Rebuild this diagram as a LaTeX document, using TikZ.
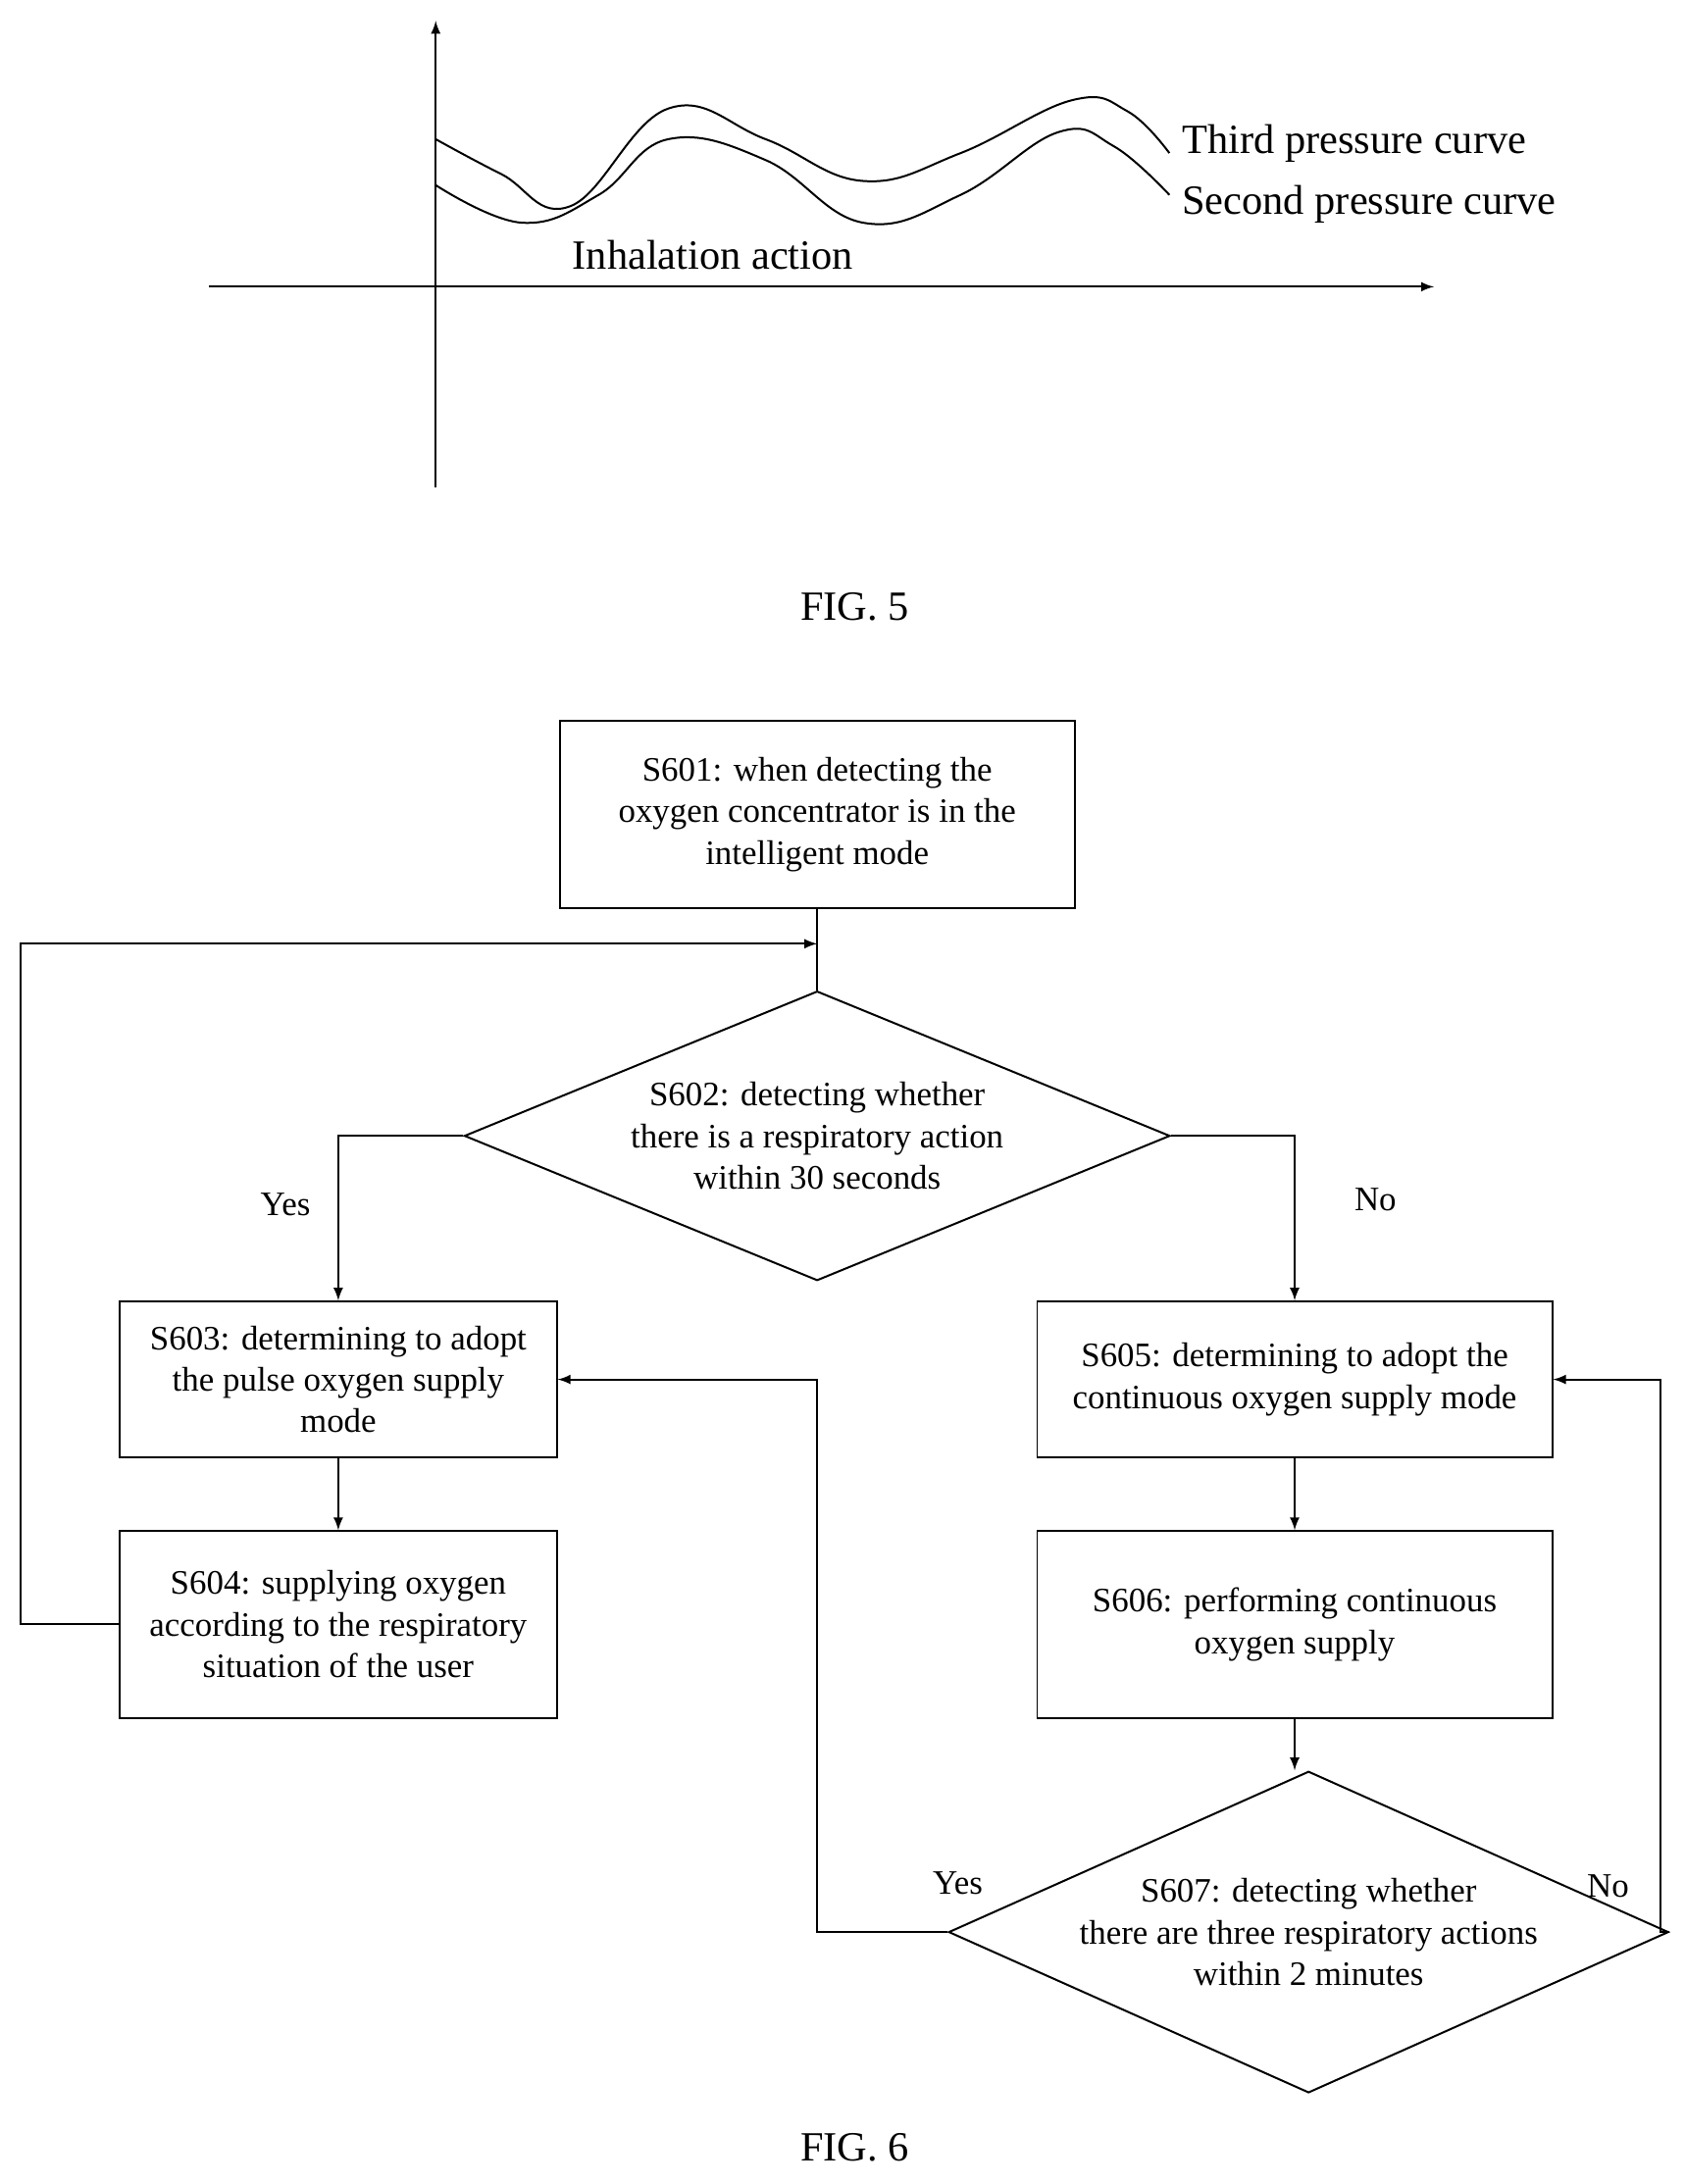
\documentclass[tikz,border=0pt]{standalone}
\usepackage{fontspec}
\setmainfont{Liberation Serif}
\usetikzlibrary{shapes.geometric}
\begin{document}
\begin{tikzpicture}[x=0.02cm,y=-0.02cm,>=latex,
  box/.style={draw,thick,minimum width=7.4cm,minimum height=2.7cm,align=center,font=\fontsize{14}{17}\selectfont,inner sep=2pt},
  boxs/.style={box,minimum width=6.28cm,minimum height=2.24cm},
  dec/.style={draw,thick,diamond,aspect=2.44,inner sep=0pt,align=center,font=\fontsize{14}{17}\selectfont},
  lbl/.style={font=\fontsize{14}{17}\selectfont},
  line/.style={draw,thick}]
\useasboundingbox (0,0) rectangle (1210,1569);
% FIG. 5
\draw[thick,->] (313,350) -- (313,15);
\draw[thick,->] (150,206) -- (1030,206);
\draw[thick] plot[smooth,tension=0.7] coordinates {(313,133) (375,160) (430,140) (480,100) (550,115) (620,160) (690,140) (760,95) (800,105) (840,140)};
\draw[thick] plot[smooth,tension=0.7] coordinates {(313,100) (360,125) (410,148) (480,78) (550,100) (620,130) (690,110) (770,72) (810,80) (840,110)};
\node[lbl,font=\fontsize{17}{20}\selectfont,anchor=west] (third) at (843,103) {Third pressure curve};
\node[lbl,font=\fontsize{17}{20}\selectfont,anchor=west] (second) at (843,147) {Second pressure curve};
\node[lbl,font=\fontsize{17}{20}\selectfont] (inhal) at (512,183) {Inhalation action};
\node[font=\fontsize{17}{20}\selectfont] (fig5) at (614,436) {FIG. 5};
% FIG. 6
\node[box] (s601) at (587,585) {S601: when detecting the\\oxygen concentrator is in the\\intelligent mode};
\node[dec,minimum width=10.14cm,minimum height=4.16cm] (s602) at (587,816) {S602: detecting whether\\there is a respiratory action\\within 30 seconds};
\node[boxs] (s603) at (243,991) {S603: determining to adopt\\the pulse oxygen supply\\mode};
\node[boxs,minimum height=2.68cm] (s604) at (243,1167) {S604: supplying oxygen\\according to the respiratory\\situation of the user};
\node[box,minimum height=2.24cm] (s605) at (930,991) {S605: determining to adopt the\\continuous oxygen supply mode};
\node[box,minimum height=2.68cm] (s606) at (930,1167) {S606: performing continuous\\oxygen supply};
\node[dec,minimum width=9.2cm,minimum height=4.62cm] (s607) at (940,1388) {S607: detecting whether\\there are three respiratory actions\\within 2 minutes};
\coordinate (join) at (587,678);
\draw[line] (s601.south) -- (s602.north);
\draw[line,->] (s604.west) -- (15,1167) -- (15,678) -- (join);
\draw[line,->] (s602.west) -| (s603.north);
\draw[line,->] (s602.east) -| (s605.north);
\draw[line,->] (s603) -- (s604);
\draw[line,->] (s605) -- (s606);
\draw[line,->] (s606) -- (s607.north -| s606.south);
\draw[line,->] (s607.west) -| (587,991) -- (s603.east);
\draw[line,->] (s607.east) -| (1193,991) -- (s605.east);
\node[lbl] (yes1) at (205,865) {Yes};
\node[lbl] (no1) at (988,862) {No};
\node[lbl] (yes2) at (688,1353) {Yes};
\node[lbl] (no2) at (1155,1355) {No};
\node[font=\fontsize{17}{20}\selectfont] (fig6) at (614,1543) {FIG. 6};
\end{tikzpicture}
\end{document}
